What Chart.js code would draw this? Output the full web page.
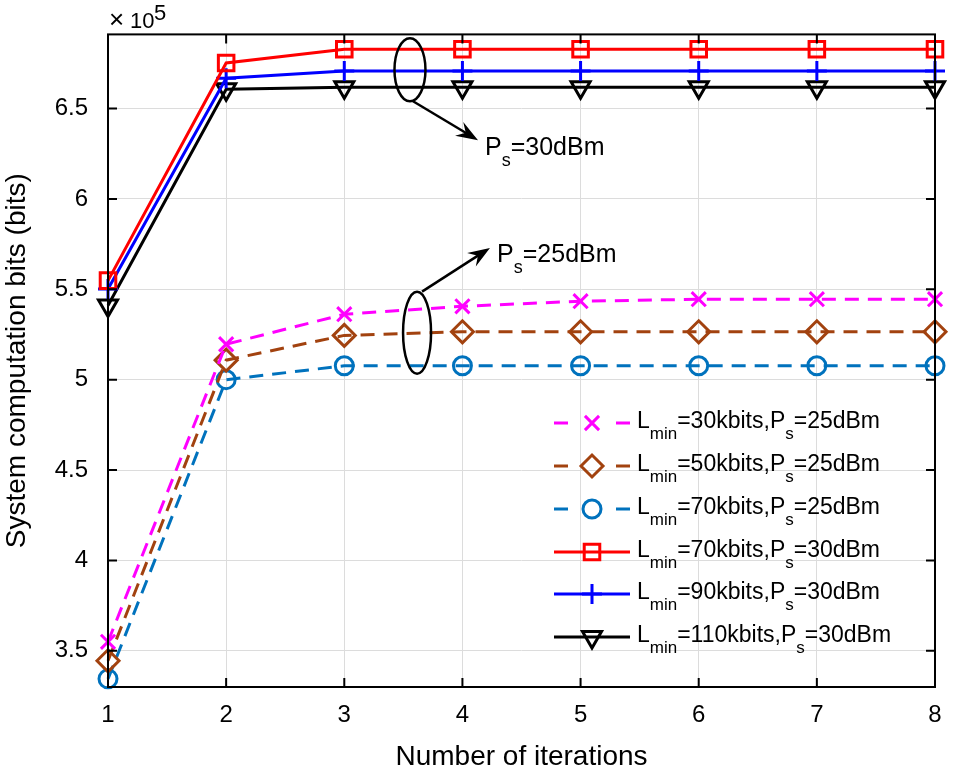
<!DOCTYPE html>
<html>
<head>
<meta charset="utf-8">
<script src="https://cdn.jsdelivr.net/npm/chart.js@4.4.1/dist/chart.umd.min.js"></script>
<style>
html, body { margin: 0; padding: 0; background: #fff; }
#wrap { width: 960px; height: 776px; }
</style>
</head>
<body>
<div id="wrap"><canvas id="myChart"></canvas></div>
<script>
const iterations = [1, 2, 3, 4, 5, 6, 7, 8];
const yTicks = [3.5, 4, 4.5, 5, 5.5, 6, 6.5];

// values in units of 1e5 bits
const l30p25  = [3.55, 5.196, 5.362, 5.406, 5.434, 5.445, 5.445, 5.445];
const l50p25  = [3.445, 5.108, 5.245, 5.265, 5.265, 5.265, 5.265, 5.265];
const l70p25  = [3.345, 5.0, 5.077, 5.077, 5.077, 5.077, 5.077, 5.077];
const l70p30  = [5.548, 6.752, 6.828, 6.828, 6.828, 6.828, 6.828, 6.828];
const l90p30  = [5.502, 6.668, 6.708, 6.708, 6.708, 6.708, 6.708, 6.708];
const l110p30 = [5.41, 6.606, 6.618, 6.618, 6.618, 6.618, 6.618, 6.618];

const legendNames = [
    ['30kbits', '25dBm'],
    ['50kbits', '25dBm'],
    ['70kbits', '25dBm'],
    ['70kbits', '30dBm'],
    ['90kbits', '30dBm'],
    ['110kbits', '30dBm']
];

const FONT = 'Liberation Sans, Arial, sans-serif';

function pts(arr) {
    return arr.map((v, i) => ({ x: iterations[i], y: v }));
}

function series(vals, color, dash, style, radius, rotation) {
    return {
        data: pts(vals),
        borderColor: color,
        borderWidth: 3,
        borderDash: dash,
        pointStyle: style,
        pointRadius: radius,
        pointHoverRadius: radius,
        pointRotation: rotation || 0,
        pointBorderColor: color,
        pointBackgroundColor: 'rgba(0,0,0,0)',
        pointBorderWidth: 3,
        fill: false,
        tension: 0,
        clip: false
    };
}

const datasets = [
    series(l30p25, '#ff00ff', [14, 9], 'crossRot', 10),
    series(l50p25, '#a2420f', [14, 9], 'rectRot', 11),
    series(l70p25, '#0072bd', [14, 9], 'circle', 9),
    series(l70p30, '#ff0000', [], 'rect', 11),
    series(l90p30, '#0000ff', [], 'cross', 10),
    series(l110p30, '#000000', [], 'triangle', 11, 180)
];

// annotations (data units)
const ellipses = [
    { x: 3.556, y: 6.714, rx: 15.5, ry: 31.5 },
    { x: 3.616, y: 5.260, rx: 14, ry: 41 }
];
const arrows = [
    { x0: 3.582, y0: 6.540, x1: 4.132, y1: 6.325 },
    { x0: 3.658, y0: 5.487, x1: 4.233, y1: 5.729 }
];
const notes = [
    { x: 4.191, y: 6.242, text: '=30dBm' },
    { x: 4.293, y: 5.652, text: '=25dBm' }
];

function drawArrow(ctx, x0, y0, x1, y1) {
    const a = Math.atan2(y1 - y0, x1 - x0);
    const len = 22, w = 8;
    ctx.beginPath();
    ctx.moveTo(x0, y0);
    ctx.lineTo(x1 - Math.cos(a) * 12, y1 - Math.sin(a) * 12);
    ctx.stroke();
    ctx.beginPath();
    ctx.moveTo(x1, y1);
    ctx.lineTo(x1 - Math.cos(a) * len - Math.sin(a) * w, y1 - Math.sin(a) * len + Math.cos(a) * w);
    ctx.lineTo(x1 - Math.cos(a) * len * 0.65, y1 - Math.sin(a) * len * 0.65);
    ctx.lineTo(x1 - Math.cos(a) * len + Math.sin(a) * w, y1 - Math.sin(a) * len - Math.cos(a) * w);
    ctx.closePath();
    ctx.fill();
}

// text with subscript: main part, sub part
function subText(ctx, x, y, main, sub, size, subSize, subDrop) {
    ctx.font = size + 'px ' + FONT;
    ctx.fillText(main, x, y);
    x += ctx.measureText(main).width;
    ctx.font = subSize + 'px ' + FONT;
    ctx.fillText(sub, x, y + subDrop);
    return x + ctx.measureText(sub).width;
}

const decor = {
    id: 'decor',
    afterDraw(chart) {
        const ctx = chart.ctx;
        const area = chart.chartArea;
        const xs = chart.scales.x, ys = chart.scales.y;
        ctx.save();

        // box and inward ticks
        ctx.strokeStyle = '#000';
        ctx.lineWidth = 2;
        ctx.strokeRect(area.left, area.top, area.right - area.left, area.bottom - area.top);
        ctx.beginPath();
        iterations.forEach(v => {
            const px = xs.getPixelForValue(v);
            ctx.moveTo(px, area.bottom); ctx.lineTo(px, area.bottom - 9);
            ctx.moveTo(px, area.top); ctx.lineTo(px, area.top + 9);
        });
        yTicks.forEach(v => {
            const py = ys.getPixelForValue(v);
            ctx.moveTo(area.left, py); ctx.lineTo(area.left + 9, py);
            ctx.moveTo(area.right, py); ctx.lineTo(area.right - 9, py);
        });
        ctx.stroke();

        // ellipses and arrows
        ctx.lineWidth = 2.5;
        ctx.fillStyle = '#000';
        ellipses.forEach(e => {
            ctx.beginPath();
            ctx.ellipse(xs.getPixelForValue(e.x), ys.getPixelForValue(e.y), e.rx, e.ry, 0, 0, Math.PI * 2);
            ctx.stroke();
        });
        arrows.forEach(a => {
            drawArrow(ctx, xs.getPixelForValue(a.x0), ys.getPixelForValue(a.y0),
                xs.getPixelForValue(a.x1), ys.getPixelForValue(a.y1));
        });
        ctx.textBaseline = 'alphabetic';
        ctx.textAlign = 'left';
        notes.forEach(n => {
            const x = subText(ctx, xs.getPixelForValue(n.x), ys.getPixelForValue(n.y), 'P', 's', 25, 18, 11);
            ctx.font = '25px ' + FONT;
            ctx.fillText(n.text, x, ys.getPixelForValue(n.y));
        });

        // legend
        const rowY = [-264, -221, -178, -135, -93, -50];
        datasets.forEach((ds, i) => {
            const y = area.bottom + rowY[i];
            const lx0 = area.right - 381, lx1 = area.right - 305, mx = area.right - 343;
            ctx.strokeStyle = ds.borderColor;
            ctx.lineWidth = 3;
            ctx.beginPath();
            if (ds.borderDash.length) {
                ctx.moveTo(lx0, y); ctx.lineTo(lx0 + 14, y);
                ctx.moveTo(lx1 - 14, y); ctx.lineTo(lx1, y);
            } else {
                ctx.moveTo(lx0, y); ctx.lineTo(lx1, y);
            }
            ctx.stroke();
            ctx.fillStyle = 'rgba(0,0,0,0)';
            Chart.helpers.drawPoint(ctx, {
                pointStyle: ds.pointStyle,
                radius: ds.pointRadius,
                rotation: ds.pointRotation,
                borderWidth: 3
            }, mx, y);
            ctx.fillStyle = '#000';
            let x = subText(ctx, area.right - 298, y + 5, 'L', 'min', 23, 17, 11);
            x = subText(ctx, x, y + 5, '=' + legendNames[i][0] + ',P', 's', 23, 17, 11);
            ctx.font = '23px ' + FONT;
            ctx.fillText('=' + legendNames[i][1], x, y + 5);
        });

        // axis titles and exponent
        ctx.fillStyle = '#000';
        ctx.font = '28px ' + FONT;
        ctx.textAlign = 'center';
        ctx.fillText('Number of iterations', (area.left + area.right) / 2, 765);
        ctx.save();
        ctx.translate(25, (area.top + area.bottom) / 2);
        ctx.rotate(-Math.PI / 2);
        ctx.fillText('System computation bits (bits)', 0, 0);
        ctx.restore();
        ctx.textAlign = 'left';
        ctx.font = '26px ' + FONT;
        ctx.fillText('\u00d7', area.left + 1, 28);
        ctx.font = '22px ' + FONT;
        ctx.fillText('10', area.left + 22, 28);
        ctx.fillText('5', area.left + 46, 20);
        ctx.restore();
    }
};

const ctx = document.getElementById('myChart').getContext('2d');
const chart = new Chart(ctx, {
    type: 'line',
    data: { datasets: datasets },
    options: {
        responsive: true,
        maintainAspectRatio: false,
        animation: false,
        events: [],
        layout: { padding: { top: 33, right: 25, left: 0, bottom: 0 } },
        plugins: { legend: { display: false }, tooltip: { enabled: false } },
        scales: {
            x: {
                type: 'linear',
                min: 1,
                max: 8,
                afterFit: s => { s.height = 89; },
                afterBuildTicks: s => { s.ticks = iterations.map(v => ({ value: v })); },
                ticks: { font: { family: FONT, size: 24 }, color: '#000', padding: 14, callback: v => String(v) },
                grid: { color: '#dcdcdc', lineWidth: 1, drawTicks: false },
                border: { display: false }
            },
            y: {
                min: 3.3,
                max: 6.91,
                afterFit: s => { s.width = 108; },
                afterBuildTicks: s => { s.ticks = yTicks.map(v => ({ value: v })); },
                ticks: { font: { family: FONT, size: 24 }, color: '#000', padding: 20, callback: v => String(v) },
                grid: { color: '#dcdcdc', lineWidth: 1, drawTicks: false },
                border: { display: false }
            }
        }
    },
    plugins: [decor]
});
</script>
</body>
</html>
